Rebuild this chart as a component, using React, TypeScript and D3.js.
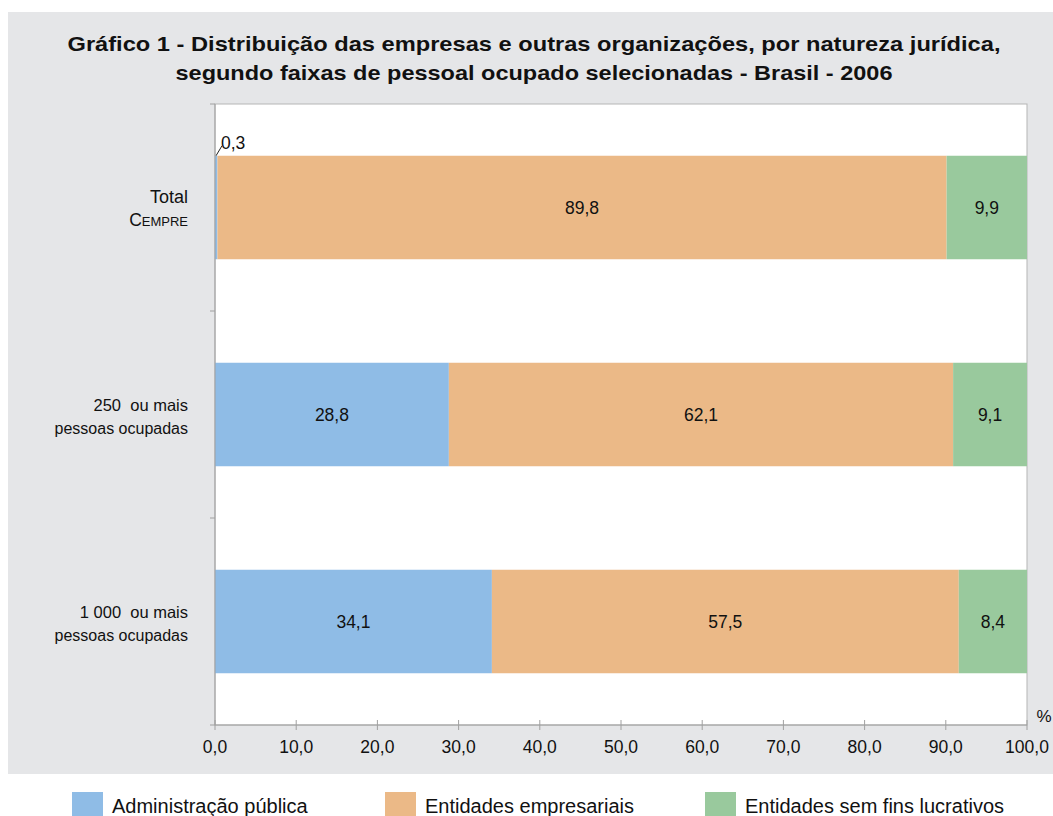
import React from "react";
import * as d3 from "d3";

const categories = ["Total CEMPRE", "250 ou mais pessoas ocupadas", "1 000 ou mais pessoas ocupadas"];
const seriesNames = ["Administração pública", "Entidades empresariais", "Entidades sem fins lucrativos"];
const adminPublica = [0.3, 28.8, 34.1];
const entEmpresariais = [89.8, 62.1, 57.5];
const semFins = [9.9, 9.1, 8.4];
const xTicks = [0, 10, 20, 30, 40, 50, 60, 70, 80, 90, 100];
const colors = ["#8fbce6", "#ebb987", "#99c99d"];

const fmt = (v: number) => v.toFixed(1).replace(".", ",");

export default function App() {
  const W = 1053, H = 816;
  const left = 215, right = 1027, top = 104, bottom = 725;
  const x = d3.scaleLinear().domain([0, 100]).range([left, right]);
  const y = d3.scaleBand().domain(categories).range([top, bottom]).paddingInner(0.5).paddingOuter(0.25);
  const series = [adminPublica, entEmpresariais, semFins];
  const font = "'Liberation Sans', Arial, Helvetica, sans-serif";
  const step = y.step();

  return (
    <svg width={W} height={H} style={{ position: "absolute", left: 0, top: 0, display: "block" }} fontFamily={font}>
      <rect x={8} y={12} width={W - 8} height={762} fill="#e5e6e8" />
      <text x={534} y={51} textAnchor="middle" fontSize={21} fontWeight="bold" fill="#111"
        textLength={933} lengthAdjust="spacingAndGlyphs">
        Gráfico 1 - Distribuição das empresas e outras organizações, por natureza jurídica,
      </text>
      <text x={534} y={80} textAnchor="middle" fontSize={21} fontWeight="bold" fill="#111"
        textLength={717} lengthAdjust="spacingAndGlyphs">
        segundo faixas de pessoal ocupado selecionadas - Brasil - 2006
      </text>
      <rect x={left} y={top} width={right - left} height={bottom - top} fill="#fff" stroke="#b5b5b5" strokeWidth={1} />
      {categories.map((c, i) => {
        let acc = 0;
        return (
          <g key={c}>
            {series.map((s, k) => {
              const x0 = x(acc);
              acc += s[i];
              const x1 = x(Math.min(acc, 100));
              const yy = y(c)!;
              const small = s[i] < 2;
              return (
                <g key={k}>
                  <rect x={x0} y={yy} width={x1 - x0} height={y.bandwidth()} fill={colors[k]} />
                  {small ? (
                    <g>
                      <line x1={x0 + 1} y1={yy} x2={x0 + 7} y2={yy - 10} stroke="#222" strokeWidth={1} />
                      <text x={x0 + 6} y={yy - 7} fontSize={17.5} fill="#111">{fmt(s[i])}</text>
                    </g>
                  ) : (
                    <text x={(x0 + x1) / 2} y={yy + y.bandwidth() / 2 + 6} textAnchor="middle" fontSize={17.5} fill="#111">
                      {fmt(s[i])}
                    </text>
                  )}
                </g>
              );
            })}
          </g>
        );
      })}
      {/* y axis */}
      <line x1={left} y1={top} x2={left} y2={bottom} stroke="#a0a0a0" />
      {[0, 1, 2, 3].map((k) => (
        <line key={k} x1={left - 5} x2={left} y1={top + k * step} y2={top + k * step} stroke="#a0a0a0" />
      ))}
      {/* x axis */}
      <line x1={left} y1={bottom} x2={right} y2={bottom} stroke="#a0a0a0" />
      {xTicks.map((t) => (
        <g key={t}>
          <line x1={x(t)} x2={x(t)} y1={bottom - 5} y2={bottom + 5} stroke="#a0a0a0" />
          <text x={x(t)} y={753} textAnchor="middle" fontSize={17.5} fill="#111">{fmt(t)}</text>
        </g>
      ))}
      <text x={1044} y={722} textAnchor="middle" fontSize={17} fill="#111">%</text>
      {/* category labels */}
      <text x={188} y={203} textAnchor="end" fontSize={18} fill="#111">Total</text>
      <text x={188} y={226} textAnchor="end" fontSize={17.5} fill="#111">
        C<tspan fontSize={13}>EMPRE</tspan>
      </text>
      <text x={188} y={411} textAnchor="end" fontSize={16.5} fill="#111" style={{ whiteSpace: "pre" }}>{"250  ou mais"}</text>
      <text x={188} y={434} textAnchor="end" fontSize={16} fill="#111">pessoas ocupadas</text>
      <text x={188} y={618} textAnchor="end" fontSize={16.5} fill="#111" style={{ whiteSpace: "pre" }}>{"1 000  ou mais"}</text>
      <text x={188} y={641} textAnchor="end" fontSize={16} fill="#111">pessoas ocupadas</text>
      {/* legend */}
      {seriesNames.map((n, k) => {
        const lx = [72, 385, 705][k];
        return (
          <g key={n}>
            <rect x={lx} y={792} width={31} height={24} fill={colors[k]} />
            <text x={lx + 40} y={813} fontSize={20} fill="#111">{n}</text>
          </g>
        );
      })}
    </svg>
  );
}
